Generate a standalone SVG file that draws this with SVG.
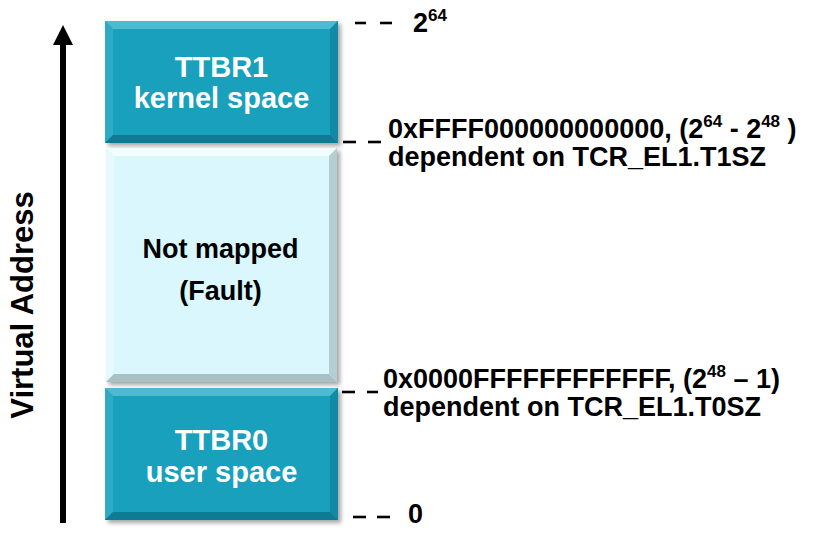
<svg xmlns="http://www.w3.org/2000/svg" width="819" height="536" viewBox="0 0 819 536">
  <style>
    .lbl { font-family: "Liberation Sans", Arial, sans-serif; font-weight: bold; fill: #000; }
    .wt { font-family: "Liberation Sans", Arial, sans-serif; font-weight: bold; fill: #fff; font-size: 29px; text-anchor: middle; }
    .bt { font-family: "Liberation Sans", Arial, sans-serif; font-weight: bold; fill: #000; font-size: 27px; text-anchor: middle; }
    .addr { font-size: 27px; }
    .sup { font-size: 17px; }
    .tick { stroke: #000; stroke-width: 2.6; }
  </style>
  <defs>
    <filter id="sh" x="-10%" y="-10%" width="125%" height="125%">
      <feDropShadow dx="3" dy="3" stdDeviation="2" flood-color="#000" flood-opacity="0.35"/>
    </filter>
  </defs>
  <rect width="819" height="536" fill="#fff"/>

  <g id="axis">
    <line x1="63" y1="523" x2="63" y2="44" stroke="#000" stroke-width="6"/>
    <path d="M53,45 L63,25 L73,45 Z" fill="#000"/>
    <text class="lbl" font-size="31" text-anchor="middle" transform="translate(33,305) rotate(-90)">Virtual Address</text>
  </g>

  <g id="ttbr1">
    <g filter="url(#sh)">
      <rect x="105" y="21" width="233" height="122" fill="#1aa0bd"/>
    </g>
    <polygon points="105,21 338,21 330,29 113,29" fill="#4dbad2"/>
    <polygon points="105,21 113,29 113,135 105,143" fill="#2eaac5"/>
    <polygon points="338,21 338,143 330,135 330,29" fill="#118aa5"/>
    <polygon points="105,143 338,143 330,135 113,135" fill="#0c7b93"/>
    <rect x="113" y="29" width="217" height="106" fill="#18a0bd"/>
    <text class="wt" x="221.5" y="77">TTBR1</text>
    <text class="wt" x="221.5" y="108">kernel space</text>
  </g>

  <g id="notmapped">
    <g filter="url(#sh)">
      <rect x="106" y="148" width="231" height="234" fill="#d9f7fc"/>
    </g>
    <polygon points="106,148 337,148 329,156 114,156" fill="#f1fdff"/>
    <polygon points="106,148 114,156 114,374 106,382" fill="#e6fafd"/>
    <polygon points="337,148 337,382 329,374 329,156" fill="#b5ced2"/>
    <polygon points="106,382 337,382 329,374 114,374" fill="#a9c1c5"/>
    <rect x="114" y="156" width="215" height="218" fill="#d9f7fc"/>
    <text class="bt" x="220.5" y="258">Not mapped</text>
    <text class="bt" x="220.5" y="300">(Fault)</text>
  </g>

  <g id="ttbr0">
    <g filter="url(#sh)">
      <rect x="105" y="388" width="233" height="132" fill="#1aa0bd"/>
    </g>
    <polygon points="105,388 338,388 330,396 113,396" fill="#4dbad2"/>
    <polygon points="105,388 113,396 113,512 105,520" fill="#2eaac5"/>
    <polygon points="338,388 338,520 330,512 330,396" fill="#118aa5"/>
    <polygon points="105,520 338,520 330,512 113,512" fill="#0c7b93"/>
    <rect x="113" y="396" width="217" height="116" fill="#18a0bd"/>
    <text class="wt" x="221.5" y="450">TTBR0</text>
    <text class="wt" x="221.5" y="482">user space</text>
  </g>

  <g id="ticks">
    <line class="tick" x1="355" y1="23" x2="366" y2="23"/>
    <line class="tick" x1="380" y1="23" x2="392" y2="23"/>
    <line class="tick" x1="343" y1="142" x2="356" y2="142"/>
    <line class="tick" x1="368" y1="142" x2="381" y2="142"/>
    <line class="tick" x1="342" y1="392" x2="355" y2="392"/>
    <line class="tick" x1="367" y1="392" x2="378" y2="392"/>
    <line class="tick" x1="353" y1="517" x2="366" y2="517"/>
    <line class="tick" x1="377" y1="517" x2="390" y2="517"/>
  </g>

  <g id="labels">
    <text class="lbl addr" x="413" y="32">2<tspan class="sup" dy="-11">64</tspan></text>
    <text class="lbl addr" x="388" y="138">0xFFFF000000000000, (2<tspan class="sup" dy="-11">64</tspan><tspan dy="11"> - 2</tspan><tspan class="sup" dy="-11">48</tspan><tspan dy="11"> )</tspan></text>
    <text class="lbl addr" x="388" y="166">dependent on TCR_EL1.T1SZ</text>
    <text class="lbl addr" x="383" y="388">0x0000FFFFFFFFFFFF, (2<tspan class="sup" dy="-11">48</tspan><tspan dy="11"> – 1)</tspan></text>
    <text class="lbl addr" x="383" y="416">dependent on TCR_EL1.T0SZ</text>
    <text class="lbl addr" x="408" y="523">0</text>
  </g>
</svg>
